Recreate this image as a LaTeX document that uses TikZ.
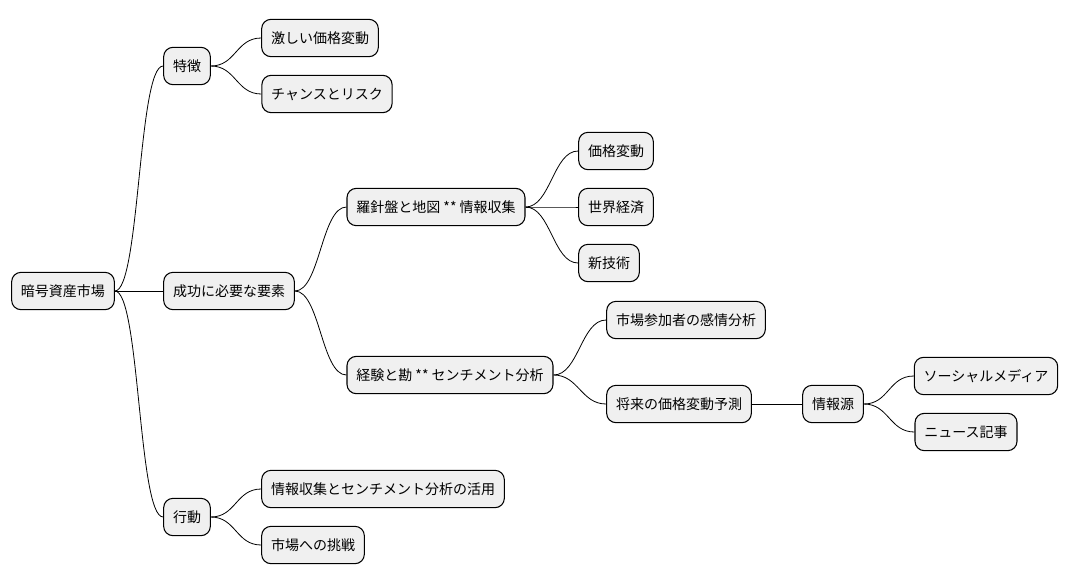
\documentclass[tikz,border=0pt]{standalone}
\usepackage{fontspec}
\newfontfamily\cjk{Noto Sans CJK JP}
\begin{document}
\begin{tikzpicture}[x=0.75pt,y=-0.75pt,
  n/.style={draw=black,line width=0.8pt,fill=black!6,rounded corners=7pt,minimum height=28pt,inner xsep=7pt,font=\cjk\fontsize{10.5}{12}\selectfont},
  e/.style={draw=black,line width=0.6pt}]
\useasboundingbox (0,0) rectangle (1071,583);
\node[n] (r) at (63,291) {暗号資産市場};
\node[n] (a) at (187,66) {特徴};
\node[n] (a1) at (320,38) {激しい価格変動};
\node[n] (a2) at (327,94) {チャンスとリスク};
\node[n] (b) at (229,291) {成功に必要な要素};
\node[n] (b1) at (436,207) {羅針盤と地図 ** 情報収集};
\node[n] (b11) at (616,151) {価格変動};
\node[n] (b12) at (616,207) {世界経済};
\node[n] (b13) at (609,263) {新技術};
\node[n] (b2) at (450,375) {経験と勘 ** センチメント分析};
\node[n] (b21) at (686,320) {市場参加者の感情分析};
\node[n] (b22) at (679,404) {将来の価格変動予測};
\node[n] (s) at (833,404) {情報源};
\node[n] (s1) at (986,376) {ソーシャルメディア};
\node[n] (s2) at (966,432) {ニュース記事};
\node[n] (c) at (187,517) {行動};
\node[n] (c1) at (383,489) {情報収集とセンチメント分析の活用};
\node[n] (c2) at (313,545) {市場への挑戦};
\foreach \p/\q in {r/a,r/b,r/c,a/a1,a/a2,b/b1,b/b2,b1/b11,b1/b12,b1/b13,b2/b21,b2/b22,b22/s,s/s1,s/s2,c/c1,c/c2}
  \draw[e] (\p.east) .. controls +(25,0) and +(-25,0) .. (\q.west);
\end{tikzpicture}
\end{document}
